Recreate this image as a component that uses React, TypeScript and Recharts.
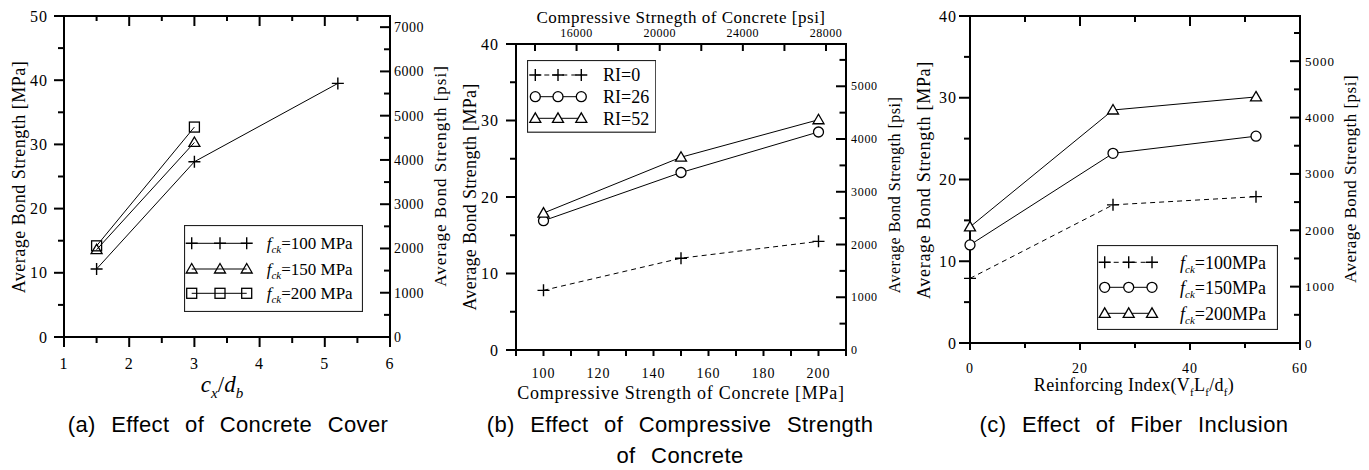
import React from "react";
import { Line, LineChart, XAxis, YAxis } from "recharts";

const SERIF = '"Liberation Serif", "Times New Roman", serif';
const SANS = '"Liberation Sans", Arial, sans-serif';
const PSI_PER_MPA = 145.038;

// (a) Effect of Concrete Cover: c_x/d_b vs bond strength [MPa]
const coverRatio100 = [1.5, 3, 5.2];
const coverBond100 = [10.6, 27.3, 39.5];
const coverRatio150 = [1.5, 3];
const coverBond150 = [13.6, 30.3];
const coverRatio200 = [1.5, 3];
const coverBond200 = [14.2, 32.7];
const coverLegend = ["100 MPa", "150 MPa", "200 MPa"];
const coverXTicks = [1, 1.5, 2, 2.5, 3, 3.5, 4, 4.5, 5, 5.5, 6];
const coverMpaTicks = [0, 5, 10, 15, 20, 25, 30, 35, 40, 45, 50];
const coverPsiTicks = [0, 500, 1000, 1500, 2000, 2500, 3000, 3500, 4000, 4500, 5000, 5500, 6000, 6500, 7000];

// (b) Effect of Compressive Strength of Concrete
const strengthMpa = [100, 150, 200];
const strengthRI0 = [7.8, 12.0, 14.2];
const strengthRI26 = [16.9, 23.2, 28.5];
const strengthRI52 = [17.9, 25.2, 30.1];
const strengthLegend = ["RI=0", "RI=26", "RI=52"];
const strengthXTicks = [90, 100, 110, 120, 130, 140, 150, 160, 170, 180, 190, 200, 210];
const strengthMpaTicks = [0, 5, 10, 15, 20, 25, 30, 35, 40];
const strengthPsiTicks = [0, 500, 1000, 1500, 2000, 2500, 3000, 3500, 4000, 4500, 5000, 5500];
const strengthTopPsiTicks = [14000, 16000, 18000, 20000, 22000, 24000, 26000, 28000];
// the psi scale on top of the original figure is its own linear scale
const TOP_PSI_AT_90 = 13086;
const TOP_PSI_PER_MPA = 132.3;

// (c) Effect of Fiber Inclusion
const fiberRI = [0, 26, 52];
const fiberF100 = [7.9, 16.9, 17.9];
const fiberF150 = [12.0, 23.2, 25.3];
const fiberF200 = [14.2, 28.5, 30.1];
const fiberLegend = ["100MPa", "150MPa", "200MPa"];
const fiberXTicks = [0, 10, 20, 30, 40, 50, 60];
const fiberMpaTicks = [0, 5, 10, 15, 20, 25, 30, 35, 40];
const fiberPsiTicks = [0, 500, 1000, 1500, 2000, 2500, 3000, 3500, 4000, 4500, 5000, 5500];

type Shape = "plus" | "circle" | "triangle" | "square";

type Series = {
  key: string;
  xs: number[];
  ys: number[];
  shape: Shape;
  dashed?: boolean;
  fill: string;
};

type TickCfg = {
  values: number[];
  isMajor: (v: number) => boolean;
  label?: (v: number) => string;
  majorLen: number;
  minorLen: number;
  inward?: boolean;
  gap?: number;
  fontSize?: number;
  letterSpacing?: number;
};

type Side = "left" | "right" | "top" | "bottom";

const toPsi = (mpa: number) => Math.round(mpa * PSI_PER_MPA);
const topPsiOf = (mpa: number) => Math.round((TOP_PSI_AT_90 + (mpa - 90) * TOP_PSI_PER_MPA) / 100) * 100;
const mpaOfTopPsi = (psi: number) => 90 + (psi - TOP_PSI_AT_90) / TOP_PSI_PER_MPA;

function Marker({ shape, cx, cy, fill }: { shape: Shape; cx: number; cy: number; fill: string }) {
  const st = { stroke: "#000", strokeWidth: 1.3, fill };
  if (shape === "plus") {
    return (
      <path
        d={`M${cx - 6},${cy}H${cx + 6}M${cx},${cy - 6}V${cy + 6}`}
        stroke="#000"
        strokeWidth={1.4}
        fill="none"
      />
    );
  }
  if (shape === "circle") return <circle cx={cx} cy={cy} r={5} {...st} />;
  if (shape === "triangle") {
    return <path d={`M${cx},${cy - 5.5}L${cx + 5.5},${cy + 4}L${cx - 5.5},${cy + 4}Z`} {...st} />;
  }
  return <rect x={cx - 5} y={cy - 5} width={10} height={10} {...st} />;
}

function tickRenderer(side: Side, c: TickCfg) {
  return (props: any) => {
    const { x, y, payload } = props;
    const v = payload.value as number;
    const major = c.isMajor(v);
    const len = major ? c.majorLen : c.minorLen;
    const d = c.inward ? -1 : 1;
    const text = major && c.label ? c.label(v) : "";
    const gap = c.gap ?? 0;
    const font: React.CSSProperties = {
      fontFamily: SERIF,
      fontSize: c.fontSize ?? 15,
      letterSpacing: c.letterSpacing ?? 0,
      fill: "#000",
    };
    if (side === "left" || side === "right") {
      const s = side === "left" ? -1 : 1;
      return (
        <g>
          <line x1={x} y1={y} x2={x + s * d * len} y2={y} stroke="#000" strokeWidth={2} />
          {text && (
            <text x={x + s * gap} y={y} textAnchor={side === "left" ? "end" : "start"} dy="0.35em" style={font}>
              {text}
            </text>
          )}
        </g>
      );
    }
    const s = side === "top" ? -1 : 1;
    return (
      <g>
        <line x1={x} y1={y} x2={x} y2={y + s * d * len} stroke="#000" strokeWidth={2} />
        {text && (
          <text x={x} y={y + s * gap} textAnchor="middle" dy={side === "bottom" ? "0.71em" : 0} style={font}>
            {text}
          </text>
        )}
      </g>
    );
  };
}

type PanelProps = {
  left: number;
  width: number;
  plot: { l: number; r: number; t: number; b: number };
  xDomain: [number, number];
  yDomain: [number, number];
  series: Series[];
  bottom: TickCfg;
  top: TickCfg;
  leftAxis: TickCfg;
  right: TickCfg;
};

const HEIGHT = 470;
const axisLine = { stroke: "#000", strokeWidth: 2, strokeLinecap: "square" as const };

function Panel({ left, width, plot, xDomain, yDomain, series, bottom, top, leftAxis, right }: PanelProps) {
  const rows = (s: Series) => s.xs.map((x, i) => ({ x, y: s.ys[i] }));
  return (
    <div style={{ position: "absolute", left, top: 0 }}>
      <LineChart
        width={width}
        height={HEIGHT}
        margin={{ left: plot.l - 1, right: width - plot.r - 1, top: plot.t - 1, bottom: HEIGHT - plot.b - 1 }}
      >
        <XAxis
          xAxisId="bottom"
          orientation="bottom"
          type="number"
          dataKey="x"
          domain={xDomain}
          ticks={bottom.values}
          interval={0}
          height={1}
          tickSize={0}
          tickMargin={0}
          tickLine={false}
          axisLine={axisLine}
          tick={tickRenderer("bottom", bottom)}
        />
        <XAxis
          xAxisId="top"
          orientation="top"
          type="number"
          dataKey="x"
          domain={xDomain}
          ticks={top.values}
          interval={0}
          height={1}
          tickSize={0}
          tickMargin={0}
          tickLine={false}
          axisLine={axisLine}
          tick={tickRenderer("top", top)}
        />
        <YAxis
          yAxisId="left"
          orientation="left"
          type="number"
          domain={yDomain}
          ticks={leftAxis.values}
          interval={0}
          width={1}
          tickSize={0}
          tickMargin={0}
          tickLine={false}
          axisLine={axisLine}
          tick={tickRenderer("left", leftAxis)}
        />
        <YAxis
          yAxisId="right"
          orientation="right"
          type="number"
          domain={yDomain}
          ticks={right.values}
          interval={0}
          width={1}
          tickSize={0}
          tickMargin={0}
          tickLine={false}
          axisLine={axisLine}
          tick={tickRenderer("right", right)}
        />
        {/* carries the secondary (top / psi) axes */}
        <Line
          xAxisId="top"
          yAxisId="right"
          data={rows(series[0])}
          dataKey="y"
          stroke="none"
          dot={false}
          activeDot={false}
          legendType="none"
          isAnimationActive={false}
        />
        {series.map((s) => (
          <Line
            key={s.key}
            xAxisId="bottom"
            yAxisId="left"
            data={rows(s)}
            dataKey="y"
            stroke="#000"
            strokeWidth={1}
            strokeDasharray={s.dashed ? "5 4" : undefined}
            activeDot={false}
            isAnimationActive={false}
            dot={(p: any) => <Marker key={`${s.key}-${p.index}`} shape={s.shape} cx={p.cx} cy={p.cy} fill={s.fill} />}
          />
        ))}
      </LineChart>
    </div>
  );
}

function FckText({ rest, sub = 11 }: { rest: string; sub?: number }) {
  return (
    <>
      <tspan fontStyle="italic">f</tspan>
      <tspan fontStyle="italic" fontSize={sub} dy={4}>
        ck
      </tspan>
      <tspan dy={-4}>={rest}</tspan>
    </>
  );
}

type LegendProps = {
  x: number;
  y: number;
  w: number;
  h: number;
  rowYs: number[];
  markerXs: number[];
  textX: number;
  fontSize: number;
  series: Series[];
  labels: React.ReactNode[];
};

function LegendBox({ x, y, w, h, rowYs, markerXs, textX, fontSize, series, labels }: LegendProps) {
  return (
    <svg style={{ position: "absolute", left: x, top: y }} width={w} height={h}>
      <rect x={0.5} y={0.5} width={w - 1} height={h - 1} fill="#fff" stroke="#222" strokeWidth={1.2} />
      {series.map((s, i) => (
        <g key={s.key}>
          <line
            x1={markerXs[0]}
            x2={markerXs[markerXs.length - 1]}
            y1={rowYs[i]}
            y2={rowYs[i]}
            stroke="#000"
            strokeWidth={1}
            strokeDasharray={s.dashed ? "5 4" : undefined}
          />
          {markerXs.map((mx) => (
            <Marker key={mx} shape={s.shape} cx={mx} cy={rowYs[i]} fill={s.fill} />
          ))}
          <text x={textX} y={rowYs[i]} dy="0.35em" style={{ fontFamily: SERIF, fontSize }} fill="#000">
            {labels[i]}
          </text>
        </g>
      ))}
    </svg>
  );
}

function Label({
  x,
  y,
  rotate = 0,
  style,
  children,
}: {
  x: number;
  y: number;
  rotate?: number;
  style?: React.CSSProperties;
  children: React.ReactNode;
}) {
  return (
    <div
      style={{
        position: "absolute",
        left: x,
        top: y,
        transform: `translate(-50%, -50%) rotate(${rotate}deg)`,
        whiteSpace: "nowrap",
        lineHeight: 1,
        fontFamily: SERIF,
        color: "#000",
        ...style,
      }}
    >
      {children}
    </div>
  );
}

const coverSeries: Series[] = [
  { key: "c100", xs: coverRatio100, ys: coverBond100, shape: "plus", fill: "none" },
  { key: "c150", xs: coverRatio150, ys: coverBond150, shape: "triangle", fill: "none" },
  { key: "c200", xs: coverRatio200, ys: coverBond200, shape: "square", fill: "none" },
];

const strengthSeries: Series[] = [
  { key: "ri0", xs: strengthMpa, ys: strengthRI0, shape: "plus", dashed: true, fill: "#fff" },
  { key: "ri26", xs: strengthMpa, ys: strengthRI26, shape: "circle", fill: "#fff" },
  { key: "ri52", xs: strengthMpa, ys: strengthRI52, shape: "triangle", fill: "#fff" },
];

const fiberSeries: Series[] = [
  { key: "f100", xs: fiberRI, ys: fiberF100, shape: "plus", dashed: true, fill: "#fff" },
  { key: "f150", xs: fiberRI, ys: fiberF150, shape: "circle", fill: "#fff" },
  { key: "f200", xs: fiberRI, ys: fiberF200, shape: "triangle", fill: "#fff" },
];

const captionStyle: React.CSSProperties = {
  fontFamily: SANS,
  fontSize: 22,
  letterSpacing: 0.4,
  wordSpacing: 9,
};

export default function App() {
  const yTitle = "Average Bond Strength [MPa]";
  const yTitlePsi = "Average Bond Strength [psi]";
  return (
    <div
      style={{
        position: "absolute",
        left: 0,
        top: 0,
        width: 1369,
        height: 470,
        background: "#fff",
        overflow: "hidden",
      }}
    >
      {/* (a) */}
      <Panel
        left={0}
        width={456}
        plot={{ l: 64, r: 390, t: 16, b: 337 }}
        xDomain={[1, 6]}
        yDomain={[0, 50]}
        series={coverSeries}
        bottom={{
          values: coverXTicks,
          isMajor: (v) => Number.isInteger(v),
          label: (v) => String(v),
          majorLen: 10,
          minorLen: 6,
          gap: 21,
          fontSize: 16,
          letterSpacing: 1,
        }}
        top={{ values: coverXTicks, isMajor: (v) => Number.isInteger(v), majorLen: 10, minorLen: 5, inward: true }}
        leftAxis={{
          values: coverMpaTicks,
          isMajor: (v) => v % 10 === 0,
          label: (v) => String(v),
          majorLen: 10,
          minorLen: 6,
          gap: 16,
          fontSize: 16,
          letterSpacing: 1,
        }}
        right={{
          values: coverPsiTicks.map((p) => p / PSI_PER_MPA),
          isMajor: (v) => toPsi(v) % 1000 === 0,
          label: (v) => String(toPsi(v)),
          majorLen: 10,
          minorLen: 6,
          inward: true,
          gap: 4,
          fontSize: 14,
          letterSpacing: 0.5,
        }}
      />
      <LegendBox
        x={184}
        y={225}
        w={179}
        h={87}
        rowYs={[18.3, 44, 68.3]}
        markerXs={[7.7, 36, 62.7]}
        textX={82.7}
        fontSize={17}
        series={coverSeries}
        labels={coverLegend.map((t) => (
          <FckText key={t} rest={t} />
        ))}
      />
      <Label x={19} y={176.5} rotate={-90} style={{ fontSize: 18, letterSpacing: 0.5 }}>
        {yTitle}
      </Label>
      <Label x={440} y={176} rotate={-90} style={{ fontSize: 17, letterSpacing: 1 }}>
        {yTitlePsi}
      </Label>
      <Label x={222} y={387} style={{ fontSize: 23 }}>
        <i>c</i>
        <sub style={{ fontSize: 15, fontStyle: "italic" }}>x</sub>/<i>d</i>
        <sub style={{ fontSize: 15, fontStyle: "italic" }}>b</sub>
      </Label>
      <Label x={228} y={425} style={captionStyle}>
        (a) Effect of Concrete Cover
      </Label>

      {/* (b) */}
      <Panel
        left={456}
        width={456}
        plot={{ l: 60, r: 390, t: 44, b: 350 }}
        xDomain={[90, 210]}
        yDomain={[0, 40]}
        series={strengthSeries}
        bottom={{
          values: strengthXTicks,
          isMajor: (v) => v % 20 === 0 && v >= 100 && v <= 200,
          label: (v) => String(v),
          majorLen: 6,
          minorLen: 6,
          gap: 18,
          fontSize: 14,
          letterSpacing: 1,
        }}
        top={{
          values: strengthTopPsiTicks.map(mpaOfTopPsi),
          isMajor: (v) => topPsiOf(v) % 4000 === 0,
          label: (v) => String(topPsiOf(v)),
          majorLen: 7,
          minorLen: 7,
          inward: true,
          gap: 7,
          fontSize: 12,
          letterSpacing: 0.5,
        }}
        leftAxis={{
          values: strengthMpaTicks,
          isMajor: (v) => v % 10 === 0,
          label: (v) => String(v),
          majorLen: 10,
          minorLen: 6,
          gap: 17,
          fontSize: 16,
          letterSpacing: 1,
        }}
        right={{
          values: strengthPsiTicks.map((p) => p / PSI_PER_MPA),
          isMajor: (v) => toPsi(v) % 1000 === 0,
          label: (v) => String(toPsi(v)),
          majorLen: 10,
          minorLen: 6.5,
          inward: true,
          gap: 5,
          fontSize: 12,
          letterSpacing: 0.7,
        }}
      />
      <LegendBox
        x={526.7}
        y={60}
        w={129.3}
        h={72.7}
        rowYs={[15, 36.7, 58.3]}
        markerXs={[8.3, 31, 54.3]}
        textX={76}
        fontSize={18}
        series={strengthSeries}
        labels={strengthLegend}
      />
      <Label x={681} y={17} style={{ fontSize: 17, letterSpacing: 0.5 }}>
        Compressive Strnegth of Concrete [psi]
      </Label>
      <Label x={470} y={197} rotate={-90} style={{ fontSize: 18, letterSpacing: 0.3 }}>
        {yTitle}
      </Label>
      <Label x={895} y={195} rotate={-90} style={{ fontSize: 16, letterSpacing: 0.5 }}>
        {yTitlePsi}
      </Label>
      <Label x={681} y={393} style={{ fontSize: 18, letterSpacing: 0.75 }}>
        Compressive Strength of Concrete [MPa]
      </Label>
      <Label x={680} y={425} style={captionStyle}>
        (b) Effect of Compressive Strength
      </Label>
      <Label x={680} y={456} style={captionStyle}>
        of Concrete
      </Label>

      {/* (c) */}
      <Panel
        left={912}
        width={457}
        plot={{ l: 58, r: 388, t: 16, b: 343 }}
        xDomain={[0, 60]}
        yDomain={[0, 40]}
        series={fiberSeries}
        bottom={{
          values: fiberXTicks,
          isMajor: (v) => v % 20 === 0,
          label: (v) => String(v),
          majorLen: 7,
          minorLen: 5,
          gap: 20,
          fontSize: 14,
          letterSpacing: 1,
        }}
        top={{ values: fiberXTicks, isMajor: (v) => v % 20 === 0, majorLen: 10, minorLen: 6, inward: true }}
        leftAxis={{
          values: fiberMpaTicks,
          isMajor: (v) => v % 10 === 0,
          label: (v) => String(v),
          majorLen: 11,
          minorLen: 6,
          gap: 13,
          fontSize: 16,
          letterSpacing: 1,
        }}
        right={{
          values: fiberPsiTicks.map((p) => p / PSI_PER_MPA),
          isMajor: (v) => toPsi(v) % 1000 === 0,
          label: (v) => String(toPsi(v)),
          majorLen: 10,
          minorLen: 6,
          inward: true,
          gap: 5,
          fontSize: 13,
          letterSpacing: 1,
        }}
      />
      <LegendBox
        x={1097}
        y={245}
        w={181}
        h={85}
        rowYs={[17.3, 42.3, 68.3]}
        markerXs={[7.7, 31.7, 55]}
        textX={83}
        fontSize={18}
        series={fiberSeries}
        labels={fiberLegend.map((t) => (
          <FckText key={t} rest={t} />
        ))}
      />
      <Label x={924} y={179.5} rotate={-90} style={{ fontSize: 18, letterSpacing: 0.7 }}>
        {yTitle}
      </Label>
      <Label x={1350} y={179} rotate={-90} style={{ fontSize: 17, letterSpacing: 0.5 }}>
        {yTitlePsi}
      </Label>
      <Label x={1134} y={387} style={{ fontSize: 18, letterSpacing: 0.3 }}>
        Reinforcing Index(V<sub style={{ fontSize: 11 }}>f</sub>L<sub style={{ fontSize: 11 }}>f</sub>/d
        <sub style={{ fontSize: 11 }}>f</sub>)
      </Label>
      <Label x={1134} y={425} style={captionStyle}>
        (c) Effect of Fiber Inclusion
      </Label>
    </div>
  );
}
